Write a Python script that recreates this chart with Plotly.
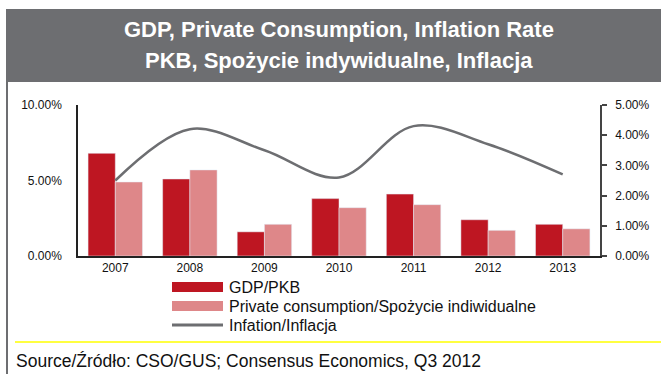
import plotly.graph_objects as go

years = ["2007", "2008", "2009", "2010", "2011", "2012", "2013"]
gdp = [6.8, 5.1, 1.6, 3.8, 4.1, 2.4, 2.1]
consumption = [4.9, 5.7, 2.1, 3.2, 3.4, 1.7, 1.8]
inflation = [2.5, 4.2, 3.5, 2.6, 4.3, 3.7, 2.7]
names = ["GDP/PKB", "Private consumption/Spożycie indiwidualne", "Infation/Inflacja"]
left_ticks = [0, 5, 10]
right_ticks = [0, 1, 2, 3, 4, 5]
title_lines = ["GDP, Private Consumption, Inflation Rate", "PKB, Spożycie indywidualne, Inflacja"]
source = "Source/Źródło: CSO/GUS; Consensus Economics, Q3 2012"

W, H = 661, 374
L, R, T, B = 78, 600, 105, 256
C_GDP = "#BE1622"
C_CONS = "#DE8789"
C_LINE = "#6D6E71"
SANS = "Liberation Sans, Arial"

def px(x):
    return (x - L) / (R - L)

def py(y):
    return (B - y) / (B - T)

fig = go.Figure()
fig.add_bar(x=years, y=gdp, name=names[0], marker_color=C_GDP, showlegend=False)
fig.add_bar(x=years, y=consumption, name=names[1], marker_color=C_CONS, showlegend=False)
fig.add_scatter(x=years, y=inflation, name=names[2], yaxis="y2", mode="lines",
                line=dict(color=C_LINE, width=2.5, shape="spline", smoothing=1.0),
                showlegend=False)

shapes = []
annotations = []
# title band
shapes.append(dict(type="rect", xref="paper", yref="paper", x0=px(6), x1=px(661),
                   y0=py(82), y1=py(9), fillcolor=C_LINE, line=dict(width=0), layer="below"))
for i, t in enumerate(title_lines):
    annotations.append(dict(text="<b>" + t + "</b>", xref="paper", yref="paper",
                            x=px(339), y=py(30 + 30 * i), showarrow=False,
                            xanchor="center", yanchor="middle",
                            font=dict(family=SANS, size=22, color="white")))
# left border
shapes.append(dict(type="line", xref="paper", yref="paper", x0=px(7), x1=px(7),
                   y0=py(82), y1=py(374), line=dict(color=C_LINE, width=2)))
# yellow separator
shapes.append(dict(type="line", xref="paper", yref="paper", x0=px(15), x1=px(661),
                   y0=py(342), y1=py(342), line=dict(color="#FFFF00", width=1.5)))
# source
annotations.append(dict(text=source, xref="paper", yref="paper", x=px(14), y=py(361),
                        showarrow=False, xanchor="left", yanchor="middle",
                        font=dict(family=SANS, size=17.5, color="#111111")))
# custom legend
leg_y = [287, 306, 325]
for i, nm in enumerate(names):
    if i < 2:
        shapes.append(dict(type="rect", xref="paper", yref="paper", x0=px(172), x1=px(223),
                           y0=py(leg_y[i] + 5), y1=py(leg_y[i] - 5),
                           fillcolor=[C_GDP, C_CONS][i], line=dict(width=0)))
    else:
        shapes.append(dict(type="line", xref="paper", yref="paper", x0=px(172), x1=px(223),
                           y0=py(leg_y[i]), y1=py(leg_y[i]), line=dict(color=C_LINE, width=3)))
    annotations.append(dict(text=nm, xref="paper", yref="paper", x=px(227), y=py(leg_y[i]),
                            showarrow=False, xanchor="left", yanchor="middle",
                            font=dict(family=SANS, size=16, color="#111111")))

fig.update_layout(
    width=W, height=H,
    margin=dict(l=L, r=W - R, t=T, b=H - B, pad=0),
    paper_bgcolor="white", plot_bgcolor="white",
    barmode="group", bargap=0.27, bargroupgap=0,
    font=dict(family=SANS, size=12, color="#111111"),
    xaxis=dict(showline=True, linecolor="#222222", linewidth=1.5, ticks="",
               tickfont=dict(size=12), showgrid=False),
    yaxis=dict(range=[0, 10], tickvals=left_ticks,
               ticktext=[f"{v:.2f}%" for v in left_ticks],
               showline=True, linecolor="#222222", linewidth=1.5, showgrid=False,
               zeroline=False, ticks="", ticklabelstandoff=12, tickfont=dict(size=12)),
    yaxis2=dict(range=[0, 5], tickvals=right_ticks,
                ticktext=[f"{v:.2f}%" for v in right_ticks],
                overlaying="y", side="right", showline=True, linecolor="#444444",
                linewidth=1.5, showgrid=False, zeroline=False, ticks="outside",
                ticklen=5, tickcolor="#444444", tickwidth=1.5,
                ticklabelstandoff=6, tickfont=dict(size=12)),
    shapes=shapes, annotations=annotations,
)

fig.write_html("out.html")
